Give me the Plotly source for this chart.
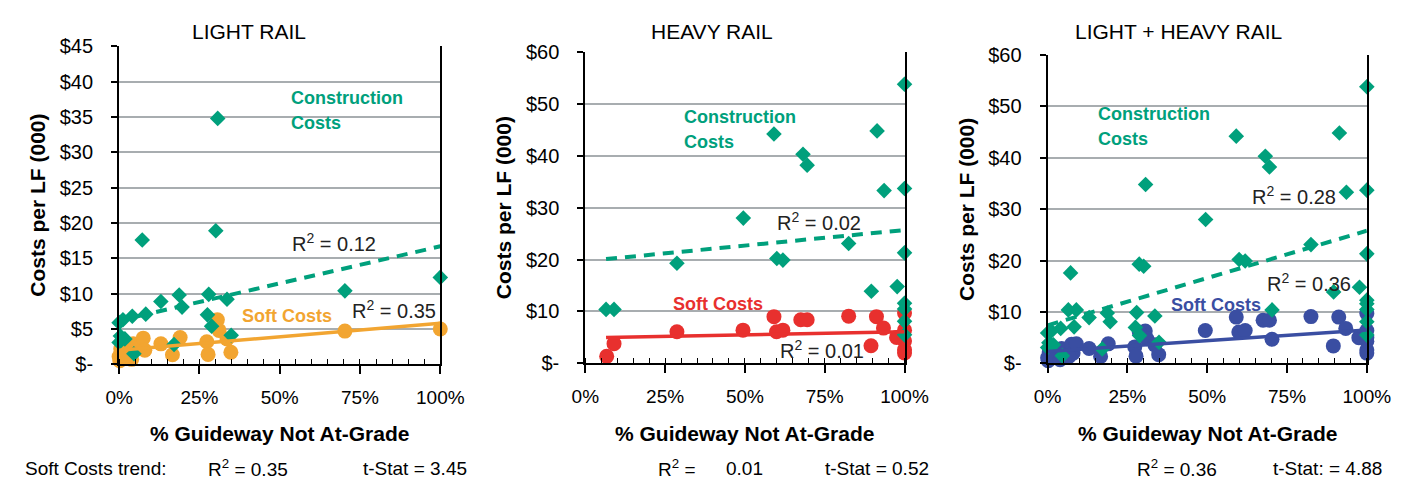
import plotly.graph_objects as go

# ---- data: cost per linear foot ($000) vs. % of guideway not at grade ----
light_constr_x = [0, 1.2, 4.1, 8.3, 13.0, 18.7, 19.6, 27.9, 33.6, 27.5, 28.8, 34.9,
                  17.1, 0.4, 0, 1.8, 4.6, 7.2, 30.1, 30.7, 70.3, 100]
light_constr_y = [5.9, 6.3, 6.8, 7.1, 8.9, 9.8, 8.1, 9.9, 9.2, 7.0, 5.4, 4.1,
                  2.8, 4.0, 3.1, 3.6, 1.5, 17.6, 18.9, 34.8, 10.4, 12.3]

light_soft_x = [0, 0.5, 0.9, 0.2, 1.5, 3.9, 4.4, 7.5, 8.0, 13.0, 16.6, 19.0,
                27.3, 27.7, 30.6, 31.1, 33.6, 34.8, 70.3, 100]
light_soft_y = [1.1, 2.2, 3.0, 0.5, 1.6, 0.7, 2.9, 3.7, 2.0, 2.9, 1.35, 3.8,
                3.2, 1.4, 6.3, 4.8, 3.6, 1.7, 4.7, 5.0]

heavy_constr_x = [6.5, 9.0, 28.7, 49.5, 59.1, 60.0, 61.9, 68.2, 69.5, 82.5, 89.6,
                  91.4, 93.6, 97.7, 100, 100, 100, 100, 100, 100, 100]
heavy_constr_y = [10.4, 10.4, 19.3, 28.0, 44.2, 20.2, 19.9, 40.3, 38.2, 23.1, 13.9,
                  44.8, 33.3, 14.8, 53.8, 33.7, 21.3, 11.6, 10.5, 8.1, 5.5]

heavy_soft_x = [6.7, 9.0, 28.7, 49.4, 59.1, 59.9, 61.9, 67.5, 69.5, 82.5, 89.5,
                91.2, 93.4, 97.5, 100, 100, 100, 100, 100]
heavy_soft_y = [1.35, 3.8, 6.1, 6.4, 9.0, 6.1, 6.4, 8.4, 8.4, 9.1, 3.4,
                9.0, 6.8, 5.0, 9.7, 6.4, 4.3, 2.6, 2.0]

# linear trend end points (x in %, y in $000)
light_constr_trend = ([0, 100], [6.2, 16.7])
light_soft_trend = ([0, 100], [2.0, 5.8])
heavy_constr_trend = ([6.5, 100], [20.1, 25.7])
heavy_soft_trend = ([6.5, 100], [5.0, 6.1])
all_constr_trend = ([0, 100], [7.4, 25.8])
all_soft_trend = ([0, 100], [2.3, 6.5])

panel_titles = ["LIGHT RAIL", "HEAVY RAIL", "LIGHT + HEAVY RAIL"]
x_tick_vals = [0, 25, 50, 75, 100]
x_tick_text = ["0%", "25%", "50%", "75%", "100%"]
y_tick_vals_light = [0, 5, 10, 15, 20, 25, 30, 35, 40, 45]
y_tick_vals_heavy = [0, 10, 20, 30, 40, 50, 60]
r2_construction = ["0.12", "0.02", "0.28"]
r2_soft = ["0.35", "0.01", "0.36"]

GREEN = "#00A07C"
ORANGE = "#F2A531"
RED = "#E8302E"
BLUE = "#3A4EA2"
GRID = "#A8ADB0"
FONT = "Liberation Sans, Arial, sans-serif"

W, H = 1421, 488


def px_x(p):
    return p / W


def px_y(p):
    return 1 - p / H


panels = [
    dict(dom_x=(108, 438), dom_y=(37, 370), ymax=45, yticks=y_tick_vals_light,
         soft_color=ORANGE, title_x=241,
         constr=(light_constr_x, light_constr_y), soft=(light_soft_x, light_soft_y),
         ctrend=light_constr_trend, strend=light_soft_trend,
         lab_constr=(53, 37.7, 34.1), lab_r2c=(53.3, 17.2), lab_r2s=(71.8, 7.7), lab_soft=(37.6, 6.8)),
    dict(dom_x=(587, 915), dom_y=(43, 369), ymax=60, yticks=y_tick_vals_heavy,
         soft_color=RED, title_x=717,
         constr=(heavy_constr_x, heavy_constr_y), soft=(heavy_soft_x, heavy_soft_y),
         ctrend=heavy_constr_trend, strend=heavy_soft_trend,
         lab_constr=(30.2, 47.5, 42.7), lab_r2c=(59.5, 27.3), lab_r2s=(60.4, 2.6), lab_soft=(26.8, 11.4)),
    dict(dom_x=(1062, 1390), dom_y=(46, 369), ymax=60, yticks=y_tick_vals_heavy,
         soft_color=BLUE, title_x=1197,
         constr=(light_constr_x + heavy_constr_x, light_constr_y + heavy_constr_y),
         soft=(light_soft_x + heavy_soft_x, light_soft_y + heavy_soft_y),
         ctrend=all_constr_trend, strend=all_soft_trend,
         lab_constr=(15.2, 48.6, 43.6), lab_r2c=(63.4, 32.7), lab_r2s=(68.0, 15.8), lab_soft=(38.1, 11.3)),
]

fig = go.Figure()
annotations = []

for i, p in enumerate(panels):
    n = "" if i == 0 else str(i + 1)
    xa, ya = "x" + n, "y" + n
    # soft cost points, then construction points on top
    fig.add_trace(go.Scatter(
        x=p["soft"][0], y=p["soft"][1], mode="markers", xaxis=xa, yaxis=ya,
        marker=dict(symbol="circle", size=15, color=p["soft_color"], line=dict(width=0)),
        cliponaxis=False, showlegend=False, hoverinfo="skip"))
    fig.add_trace(go.Scatter(
        x=p["constr"][0], y=p["constr"][1], mode="markers", xaxis=xa, yaxis=ya,
        marker=dict(symbol="diamond", size=12, color=GREEN, line=dict(width=0)),
        cliponaxis=False, showlegend=False, hoverinfo="skip"))
    fig.add_trace(go.Scatter(
        x=p["ctrend"][0], y=p["ctrend"][1], mode="lines", xaxis=xa, yaxis=ya,
        line=dict(color=GREEN, width=4, dash="11px,8px"),
        showlegend=False, hoverinfo="skip"))
    fig.add_trace(go.Scatter(
        x=p["strend"][0], y=p["strend"][1], mode="lines", xaxis=xa, yaxis=ya,
        line=dict(color=p["soft_color"], width=3.5),
        showlegend=False, hoverinfo="skip"))

    x0, x1 = p["dom_x"]
    ytop, ybot = p["dom_y"]
    yt = p["yticks"]
    fig.update_layout(**{
        "xaxis" + n: dict(
            domain=[px_x(x0), px_x(x1)], range=[0, 100], anchor=ya,
            tickvals=x_tick_vals, ticktext=x_tick_text,
            ticks="outside", ticklen=8, tickwidth=1.5, tickcolor="black",
            minor=dict(dtick=5, tick0=0, ticks="inside", ticklen=5, tickwidth=1.2,
                       tickcolor="black", showgrid=False),
            showline=True, linecolor="black", linewidth=2, showgrid=False,
            zeroline=False, ticklabelstandoff=7,
            tickfont=dict(family=FONT, size=19, color="black"), fixedrange=True),
        "yaxis" + n: dict(
            domain=[px_y(ybot), px_y(ytop)], range=[0, p["ymax"]], anchor=xa,
            tickvals=yt, ticktext=["$-"] + ["$%d" % v for v in yt[1:]],
            ticks="outside", ticklen=6, tickwidth=1.5, tickcolor="black",
            showline=True, linecolor="black", linewidth=2, mirror=True,
            showgrid=True, gridcolor=GRID, gridwidth=1.5, zeroline=False,
            ticklabelstandoff=14,
            tickfont=dict(family=FONT, size=20, color="black"), fixedrange=True),
    })

    xc = (x0 + x1) / 2
    # panel title
    annotations.append(dict(text=panel_titles[i], x=px_x(p["title_x"]), y=px_y(21),
                            xref="paper", yref="paper", showarrow=False,
                            font=dict(family=FONT, size=21, color="black"),
                            xanchor="center", yanchor="middle"))
    # axis titles
    annotations.append(dict(text="<b>% Guideway Not At-Grade</b>", x=px_x(xc), y=px_y(442),
                            xref="paper", yref="paper", showarrow=False,
                            font=dict(family=FONT, size=21, color="black"),
                            xanchor="center", yanchor="middle"))
    annotations.append(dict(text="<b>Costs per LF (000)</b>", x=px_x(x0 - 84), y=px_y((ytop + ybot) / 2),
                            xref="paper", yref="paper", showarrow=False, textangle=-90,
                            font=dict(family=FONT, size=21, color="black"),
                            xanchor="center", yanchor="middle"))
    # in-plot labels
    lx, ly1, ly2 = p["lab_constr"]
    for word, ly in (("Construction", ly1), ("Costs", ly2)):
        annotations.append(dict(text="<b>%s</b>" % word, x=lx, y=ly,
                                xref=xa, yref=ya, showarrow=False,
                                font=dict(family=FONT, size=18, color=GREEN),
                                xanchor="left", yanchor="middle"))
    annotations.append(dict(text="<b>Soft Costs</b>", x=p["lab_soft"][0], y=p["lab_soft"][1],
                            xref=xa, yref=ya, showarrow=False,
                            font=dict(family=FONT, size=18, color=p["soft_color"]),
                            xanchor="left", yanchor="middle"))
    annotations.append(dict(text="R<sup>2</sup> = " + r2_construction[i], x=p["lab_r2c"][0], y=p["lab_r2c"][1],
                            xref=xa, yref=ya, showarrow=False,
                            font=dict(family=FONT, size=20, color="#222222"),
                            xanchor="left", yanchor="middle"))
    annotations.append(dict(text="R<sup>2</sup> = " + r2_soft[i], x=p["lab_r2s"][0], y=p["lab_r2s"][1],
                            xref=xa, yref=ya, showarrow=False,
                            font=dict(family=FONT, size=20, color="#222222"),
                            xanchor="left", yanchor="middle"))

# footer: soft-cost trend statistics
footer = [
    ("Soft Costs trend:", 9),
    ("R<sup>2</sup> = 0.35", 197),
    ("t-Stat = 3.45", 357),
    ("R<sup>2</sup> =", 660),
    ("0.01", 730),
    ("t-Stat = 0.52", 831),
    ("R<sup>2</sup> = 0.36", 1152),
    ("t-Stat: = 4.88", 1292),
]
for txt, xpix in footer:
    annotations.append(dict(text=txt, x=px_x(xpix), y=px_y(479), xref="paper", yref="paper",
                            showarrow=False, font=dict(family=FONT, size=19, color="black"),
                            xanchor="left", yanchor="middle"))

fig.update_layout(
    width=W, height=H, margin=dict(l=0, r=0, t=0, b=0),
    paper_bgcolor="white", plot_bgcolor="white",
    annotations=annotations, showlegend=False,
)

fig.write_html("out.html", config={"displayModeBar": False})
